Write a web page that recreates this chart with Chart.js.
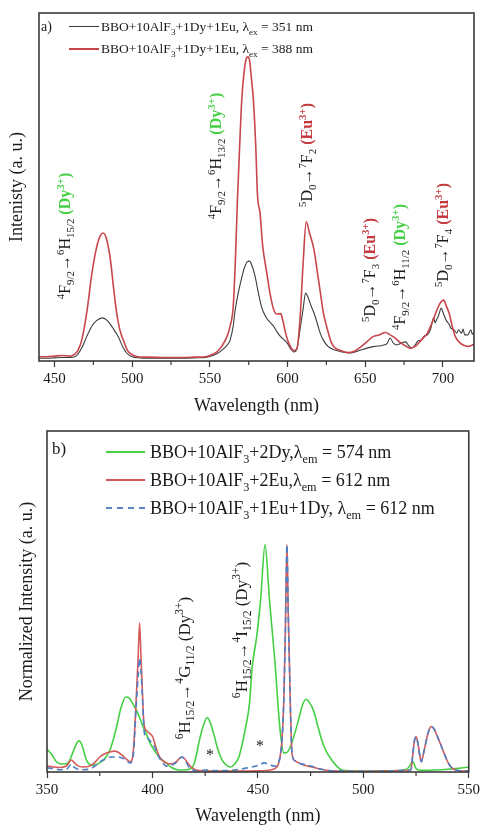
<!DOCTYPE html>
<html><head><meta charset="utf-8">
<script src="https://cdn.jsdelivr.net/npm/chart.js@4.4.1/dist/chart.umd.min.js"></script>
<style>
html,body{margin:0;padding:0;background:#fff;width:483px;height:825px;overflow:hidden;font-family:"Liberation Serif","Times New Roman",serif;color:#1a1a1a;}
#wa{position:absolute;left:0;top:0;width:483px;height:420px;}
#wb{position:absolute;left:0;top:420px;width:483px;height:405px;}
.lbl{position:absolute;white-space:nowrap;transform:translate(-50%,-50%) rotate(-90deg);line-height:1;}
.txt{position:absolute;white-space:nowrap;transform:translateY(-50%);line-height:1;}
sub,sup{font-size:68%;line-height:0;}
.g{color:#45cf45;font-weight:bold}
.r{color:#c33a3e;font-weight:bold}
.ln{position:absolute;height:0;}
</style></head>
<body>
<div id="wa"><canvas id="ca"></canvas></div>
<div id="wb"><canvas id="cb"></canvas></div>

<!-- panel a legend -->
<div class="txt" style="left:41px;top:27px;font-size:14px">a)</div>
<div class="ln" style="left:69px;top:26px;width:30px;border-top:1.5px solid #3a3a3a"></div>
<div class="txt" style="left:101px;top:27px;font-size:13.5px">BBO+10AlF<sub>3</sub>+1Dy+1Eu, λ<sub>ex</sub> = 351 nm</div>
<div class="ln" style="left:69px;top:48px;width:30px;border-top:2px solid #c8464c"></div>
<div class="txt" style="left:101px;top:49px;font-size:13.5px">BBO+10AlF<sub>3</sub>+1Dy+1Eu, λ<sub>ex</sub> = 388 nm</div>

<!-- panel a annotations -->
<div class="lbl" style="left:65px;top:236px;font-size:16px"><sup>4</sup>F<sub>9/2</sub>→<sup>6</sup>H<sub>15/2</sub> <span class="g">(Dy<sup>3+</sup>)</span></div>
<div class="lbl" style="left:216px;top:156px;font-size:16px"><sup>4</sup>F<sub>9/2</sub>→<sup>6</sup>H<sub>13/2</sub> <span class="g">(Dy<sup>3+</sup>)</span></div>
<div class="lbl" style="left:307px;top:155px;font-size:16px"><sup>5</sup>D<sub>0</sub>→<sup>7</sup>F<sub>2</sub> <span class="r">(Eu<sup>3+</sup>)</span></div>
<div class="lbl" style="left:370px;top:270px;font-size:16px"><sup>5</sup>D<sub>0</sub>→<sup>7</sup>F<sub>3</sub> <span class="r">(Eu<sup>3+</sup>)</span></div>
<div class="lbl" style="left:400px;top:267px;font-size:16px"><sup>4</sup>F<sub>9/2</sub>→<sup>6</sup>H<sub>11/2</sub> <span class="g">(Dy<sup>3+</sup>)</span></div>
<div class="lbl" style="left:443px;top:235px;font-size:16px"><sup>5</sup>D<sub>0</sub>→<sup>7</sup>F<sub>4</sub> <span class="r">(Eu<sup>3+</sup>)</span></div>

<!-- panel b legend -->
<div class="txt" style="left:52px;top:448px;font-size:17px">b)</div>
<div class="ln" style="left:106px;top:451px;width:39px;border-top:2px solid #45cf45"></div>
<div class="txt" style="left:150px;top:452px;font-size:18px">BBO+10AlF<sub>3</sub>+2Dy,λ<sub>em</sub> = 574 nm</div>
<div class="ln" style="left:106px;top:479px;width:39px;border-top:2px solid #d05a5a"></div>
<div class="txt" style="left:150px;top:480px;font-size:18px">BBO+10AlF<sub>3</sub>+2Eu,λ<sub>em</sub> = 612 nm</div>
<div class="ln" style="left:106px;top:507px;width:39px;border-top:2px dashed #5a86c0"></div>
<div class="txt" style="left:150px;top:508px;font-size:18px">BBO+10AlF<sub>3</sub>+1Eu+1Dy, λ<sub>em</sub> = 612 nm</div>

<!-- panel b annotations -->
<div class="lbl" style="left:184px;top:668px;font-size:17px"><sup>6</sup>H<sub>15/2</sub>→<sup>4</sup>G<sub>11/2</sub> (Dy<sup>3+</sup>)</div>
<div class="lbl" style="left:241px;top:630px;font-size:17px"><sup>6</sup>H<sub>15/2</sub>→<sup>4</sup>I<sub>15/2</sub> (Dy<sup>3+</sup>)</div>
<div class="txt" style="left:206px;top:755px;font-size:16px">*</div>
<div class="txt" style="left:256px;top:746px;font-size:16px">*</div>

<script>
// ---------- Panel a data (emission, arbitrary units) ----------
const wlGray351 = [440,445,450,455,460,463,465,468,470.7,474,477,481,484,487.5,491,494,496.4,500,505,510,520,530,540,548,552,555,558,561,563,565,566,568,570,572,574,575.5,577,579,581,583,584.5,587,589,591,593,595.5,598,600,602,604,606,608,610,611.6,613,615,617,619,621,623,626,630,635,641,646,651,656,660,662,664,666,668,670,672,674,676,678,680,682,684,686,688,690,692,694,695,696,697,699,700,702,704,705,707,709,710,712,713,714,716,718,719,720];
const intGray351 = [0.8,0.8,0.9,1.0,1.0,1.2,2.0,4.2,7,10,11.6,12.4,11.6,9.5,7,4,2.3,1.2,0.9,0.8,0.8,0.8,0.9,1.1,1.6,2.2,3.2,4.5,6,10,13.8,19,23,26.5,28.5,28.7,27.5,24.5,20,16,14,12,11,10,8.5,7,6,5,3.5,2.6,3.5,9,15,19.5,18.5,16,13.8,11,8,6,4.2,3.2,2.6,2.3,3,3.7,4.2,4.4,4.6,5,6.6,5.2,4.6,4.9,5.3,5.5,4.4,3.7,4.5,5.8,6,7.2,7.5,9,12.4,11,12,12.8,15.2,14,11.8,10.5,9.5,9,8,9,8,9.2,7.5,7.5,9,7.6,8.3];
const wlRed388 = [440,445,450,455,460,463,465,467.5,470.7,474,477,479.5,481.4,483.5,486,488,490,492,494.3,497,500,503,510,520,530,540,548,552,555,558,561,563,565,566.5,567.7,569,570.5,572,573.5,574.5,575.5,577,578,579.5,580.6,582.3,584,586.6,589,591,593,595.6,597,598.5,600,602,604,606,608,610,612,614,617,619,621,623,626,628,630,634,639,643,647,651,655,659,663,666,668,672,676,679,683,687,690,693,696,698,700.5,702,704,706,708,711,713,716,720];
const intRed388 = [1.2,1.2,1.4,1.6,1.4,2,3,6,13.8,25,32.5,36,36.8,35,29,21,13.8,9,6,3,1.8,1.3,1.1,1.0,1.0,1.1,1.3,2,2.8,4.5,7,10,15.6,30,46,60,75,83,87,87.4,86.5,80,75,62,48,42.4,33,25.4,18.7,14.9,13.5,13.6,11.5,8.5,6,4,3,3.5,12,28,40,37,32,26,20,14,8.5,5.5,4,3,2.4,2.8,4,5.5,7,7.5,8.2,7.5,7,5.5,4.3,3.7,4.5,6.5,8,11,14.5,16.5,17.5,16,13.7,10,7,5.2,4.6,4.2,4.8];
const ticksA = [450,500,550,600,650,700];
const minorTicksA = [475,525,575,625,675];

// ---------- Panel b data (excitation, normalized) ----------
const wlGreen2Dy = [350,352,355,358,360,362,364,365.2,366.5,368.7,370,372,375,378,380,383,385,387.3,389,390.7,392.5,393.9,395.5,397,399,401.7,404,406.5,409,412.7,416,419,420.5,422,424,426,427.5,429,431,433,435,437,439,441,442.5,444.2,446,447.3,449.5,451.3,453.4,455.5,457,458.3,459.5,460.7,462.3,463.5,465.4,467.5,469.3,471,472.8,474.5,476.4,478.5,480.3,482.5,485,487.5,489.8,495,500,510,518,521,523.6,525,527,530,540,545,550];
const intGreen2Dy = [0.10,0.08,0.04,0.035,0.04,0.08,0.125,0.137,0.12,0.053,0.035,0.03,0.04,0.066,0.10,0.198,0.28,0.33,0.325,0.30,0.27,0.24,0.20,0.17,0.125,0.084,0.058,0.04,0.02,0.009,0.01,0.022,0.06,0.128,0.20,0.24,0.215,0.17,0.10,0.053,0.03,0.022,0.035,0.066,0.12,0.198,0.30,0.46,0.60,0.757,1.0,0.757,0.60,0.46,0.30,0.17,0.084,0.085,0.11,0.17,0.23,0.29,0.32,0.305,0.27,0.20,0.14,0.09,0.053,0.025,0.009,0.005,0.004,0.005,0.008,0.015,0.045,0.015,0.008,0.008,0.012,0.016,0.022];
const wlRed2Eu = [350,353,356,359,361.6,363,364.5,367,370,372.5,375,377.5,379.7,382,383.6,385.5,387.5,389.5,390.8,392.3,393.2,393.9,394.6,395.1,395.7,396.2,397.5,398.6,400.1,401.3,402.5,404,406.5,409,411.2,412.8,414,415.3,416.7,418.5,420.6,425,430,440,450,455,458,460,461.5,462.3,463,463.8,464.4,465,465.6,466.2,467.5,469.3,472,475.6,480,485,490,500,510,518,521,522.6,523.5,524.3,525.1,526,527,527.5,528.5,529.9,531,532.2,533.5,535.4,537.7,539.5,540.9,543,546,550];
const intRed2Eu = [0.026,0.022,0.02,0.025,0.053,0.04,0.028,0.022,0.025,0.04,0.066,0.08,0.088,0.092,0.088,0.075,0.058,0.045,0.08,0.32,0.50,0.655,0.50,0.39,0.25,0.20,0.18,0.17,0.155,0.12,0.084,0.058,0.04,0.035,0.044,0.06,0.066,0.058,0.04,0.02,0.009,0.005,0.004,0.004,0.005,0.008,0.015,0.045,0.15,0.32,0.60,1.0,0.70,0.46,0.22,0.08,0.05,0.04,0.03,0.022,0.012,0.005,0.003,0.003,0.004,0.006,0.006,0.01,0.08,0.14,0.155,0.12,0.06,0.045,0.08,0.14,0.18,0.20,0.19,0.15,0.097,0.055,0.03,0.012,0.005,0.004];
const wlBlueEuDy = [350,353,356,359,361.6,363,366,370,372.5,375,378,380,384,386.5,389.5,391,392.3,393.2,393.9,394.6,395.1,395.7,396.2,397.5,398.6,401,403,405,406.5,409,411,412.8,414,415.3,417,419,421,425,430,435,440,445,450.5,453,456,458,460,461.5,462.3,463,463.8,464.4,465,465.6,466.2,467.5,469.3,472,475.6,480,485,490,500,510,518,521,522.6,523.5,524.3,525.1,526,527,527.5,528.5,529.9,531,532.2,533.5,535.4,537.7,539.5,540.9,543,546,550];
const intBlueEuDy = [0.018,0.015,0.01,0.01,0.035,0.02,0.01,0.012,0.025,0.044,0.058,0.066,0.066,0.058,0.04,0.08,0.29,0.42,0.50,0.44,0.36,0.24,0.17,0.15,0.14,0.11,0.066,0.04,0.026,0.03,0.04,0.058,0.066,0.055,0.026,0.01,0.004,0.009,0.006,0.006,0.01,0.018,0.03,0.04,0.03,0.026,0.045,0.15,0.32,0.60,1.0,0.70,0.46,0.22,0.08,0.05,0.04,0.033,0.025,0.012,0.005,0.004,0.003,0.004,0.006,0.006,0.01,0.08,0.14,0.155,0.12,0.06,0.045,0.08,0.14,0.18,0.20,0.19,0.15,0.097,0.055,0.03,0.012,0.005,0.004];
const ticksB = [350,400,450,500,550];
const minorTicksB = [375,425,475,525];

const zip = (xs, ys) => xs.map((x, i) => ({x, y: ys[i]}));
const FONT = "'Liberation Serif','Times New Roman',serif";

const framePlugin = {
  id: 'frame',
  afterDraw(chart, args, opts) {
    const {ctx, chartArea: a} = chart;
    const xs = chart.scales.x;
    ctx.save();
    ctx.strokeStyle = '#3a3a3a';
    ctx.lineWidth = 1.2;
    (opts.minor || []).forEach(v => {
      const px = xs.getPixelForValue(v);
      ctx.beginPath(); ctx.moveTo(px, a.bottom); ctx.lineTo(px, a.bottom + 4); ctx.stroke();
    });
    ctx.lineWidth = 1.6;
    ctx.strokeRect(a.left, a.top, a.right - a.left, a.bottom - a.top);
    ctx.restore();
  }
};

function lineDs(xs, ys, color, width, dash) {
  return {data: zip(xs, ys), borderColor: color, borderWidth: width, borderDash: dash || [],
          pointRadius: 0, showLine: true, fill: false, cubicInterpolationMode: 'monotone'};
}

function makeChart(id, datasets, cfg) {
  return new Chart(document.getElementById(id), {
    type: 'scatter',
    data: {datasets},
    plugins: [framePlugin],
    options: {
      responsive: true, maintainAspectRatio: false, animation: false,
      layout: {padding: cfg.padding},
      plugins: {legend: {display: false}, tooltip: {enabled: false}, frame: {minor: cfg.minor}},
      scales: {
        x: {
          type: 'linear', min: cfg.xmin, max: cfg.xmax,
          afterBuildTicks: s => { s.ticks = cfg.ticks.map(v => ({value: v})); },
          afterFit: s => { s.height = cfg.xh; },
          ticks: {autoSkip: false, maxRotation: 0, includeBounds: false, padding: 3,
                  color: '#1a1a1a', font: {family: FONT, size: 15}},
          grid: {display: true, drawOnChartArea: false, drawTicks: true, tickLength: 6,
                 tickColor: '#3a3a3a', tickWidth: 1.2},
          border: {display: false},
          title: {display: true, text: 'Wavelength (nm)', color: '#1a1a1a',
                  font: {family: FONT, size: 18, lineHeight: cfg.xtLH}, padding: {top: 0, bottom: cfg.xtPad}}
        },
        y: {
          min: cfg.ymin, max: cfg.ymax,
          afterFit: s => { s.width = cfg.yw; },
          ticks: {display: false},
          grid: {display: false},
          border: {display: false},
          title: {display: true, text: cfg.ytitle, color: '#1a1a1a',
                  font: {family: FONT, size: 18}, padding: {top: cfg.ytPad, bottom: 0}}
        }
      }
    }
  });
}

makeChart('ca', [
  lineDs(wlRed388, intRed388, '#c8464c', 1.6),
  lineDs(wlGray351, intGray351, '#3c3c3c', 1.1)
], {padding: {top: 13, right: 9, left: 0, bottom: 0}, xmin: 440, xmax: 720, ticks: ticksA, minor: minorTicksA,
    xh: 59, yw: 39, ymin: 0, ymax: 100, ytitle: 'Intenisty (a. u.)', ytPad: 6, xtPad: 3, xtLH: 1.2});

makeChart('cb', [
  lineDs(wlBlueEuDy, intBlueEuDy, '#4f7fc4', 1.6, [6, 4]),
  lineDs(wlRed2Eu, intRed2Eu, '#d55a5a', 1.6),
  lineDs(wlGreen2Dy, intGreen2Dy, '#45cf45', 1.6)
], {padding: {top: 11, right: 12, left: 0, bottom: 0}, xmin: 350, xmax: 550, ticks: ticksB, minor: minorTicksB,
    xh: 53, yw: 47, ymin: 0, ymax: 1.5, ytitle: 'Normalized Intensity (a. u.)', ytPad: 16, xtPad: 0, xtLH: 1.0});
</script>
</body></html>
